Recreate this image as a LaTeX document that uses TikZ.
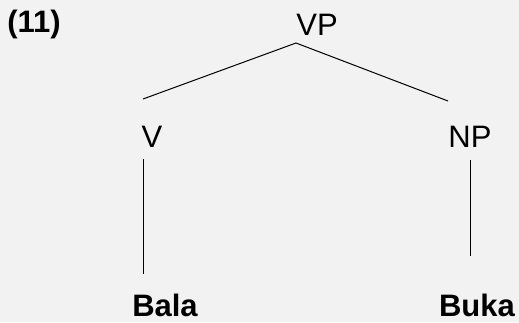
\documentclass[tikz,border=0pt]{standalone}
\usepackage{fontspec}
\setmainfont{Liberation Sans}

\tikzset{
  cat/.style={font=\fontsize{31}{35}\selectfont, inner sep=0pt, anchor=base},
  word/.style={cat, font=\fontsize{31}{35}\selectfont\bfseries},
  branch/.style={line width=1pt}
}

\begin{document}
\begin{tikzpicture}[x=1pt,y=-1pt]
\fill [black!5] (0,0) rectangle (519,322);
\useasboundingbox (0,0) rectangle (519,322);
\node [word] (ex) at (34,32) {(11)};
\node [cat] (vp) at (317,35) {VP};
\node [cat] (v) at (152,147) {V};
\node [cat] (np) at (470,147) {NP};
\node [word] (bala) at (165,316) {Bala};
\node [word] (buka) at (477,316) {Buka};
\coordinate (vp-root) at (296,43);
\coordinate (v-up) at (143,99);
\coordinate (np-up) at (448,101);
\coordinate (v-down) at (143,159);
\coordinate (bala-up) at (143,274);
\coordinate (np-down) at (470,160);
\coordinate (buka-up) at (470,256);
\draw [branch] (v-up) -- (vp-root) -- (np-up);
\draw [branch] (v-down) -- (bala-up);
\draw [branch] (np-down) -- (buka-up);
\end{tikzpicture}
\end{document}
